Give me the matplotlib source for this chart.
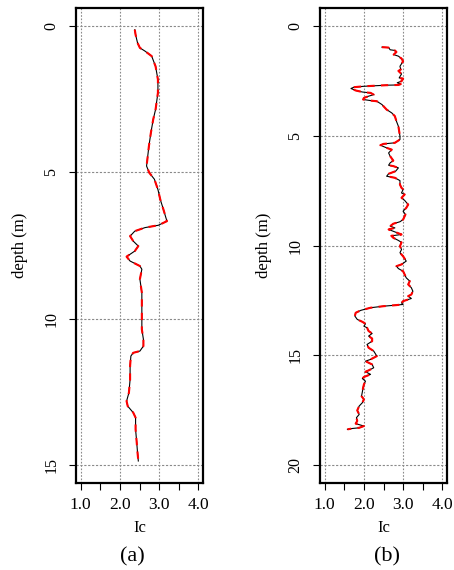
import numpy as np
import matplotlib.pyplot as plt

plt.rcParams['font.family'] = ['Liberation Serif', 'DejaVu Serif']

# panel (a): smooth Ic profile
depth_a = [0.14, 0.31, 0.59, 0.76, 0.87, 1.04, 1.39, 1.84, 2.29, 2.86, 3.2, 3.66, 4.11,
           4.57, 4.79, 5.02, 5.24, 5.59, 5.93, 6.27, 6.67, 6.81, 6.89, 7.01, 7.18, 7.35,
           7.52, 7.69, 7.88, 8.03, 8.2, 8.31, 8.65, 9.11, 9.56, 10.02, 10.36, 10.70, 10.93,
           11.1, 11.16, 11.27, 11.61, 12.07, 12.52, 12.81, 12.98, 13.2, 13.37, 13.77,
           14.23, 14.57, 14.85]
ic_a = [2.38, 2.40, 2.45, 2.51, 2.64, 2.81, 2.91, 2.97, 2.97, 2.91, 2.85, 2.79, 2.74,
        2.70, 2.68, 2.75, 2.88, 2.97, 3.03, 3.11, 3.20, 2.98, 2.64, 2.38, 2.26, 2.34,
        2.47, 2.38, 2.17, 2.26, 2.51, 2.56, 2.51, 2.56, 2.56, 2.56, 2.56, 2.60, 2.60,
        2.51, 2.34, 2.28, 2.26, 2.26, 2.23, 2.17, 2.20, 2.34, 2.40, 2.40,
        2.43, 2.45, 2.47]

# panel (b): jagged Ic profile
depth_b = [0.98, 1.00, 1.10, 1.13, 1.2, 1.32, 1.39, 1.5, 1.62, 1.85, 2.0, 2.06, 2.2, 2.38,
           2.41, 2.53, 2.6, 2.66, 2.70, 2.71, 2.74, 2.76, 2.8, 2.86, 2.95, 3.02, 3.06, 3.14,
           3.21, 3.29, 3.36, 3.41, 3.44, 3.59, 3.82, 3.97, 4.12, 4.35, 4.58, 4.80, 5.03,
           5.18, 5.33, 5.38, 5.44, 5.56, 5.64, 5.79, 5.94, 6.14, 6.24, 6.35, 6.39, 6.47,
           6.62, 6.74, 6.85, 6.92, 7.05, 7.23, 7.38, 7.45, 7.61, 7.68, 7.83, 7.95, 8.14,
           8.29, 8.44, 8.59, 8.82, 8.92, 9.01, 9.12, 9.2, 9.27, 9.38, 9.5, 9.56, 9.65,
           9.77, 9.86, 10.03, 10.18, 10.33, 10.49, 10.71, 10.86, 10.94, 11.05, 11.17,
           11.32, 11.47, 11.62, 11.77, 11.92, 12.08, 12.23, 12.30, 12.41, 12.53, 12.61,
           12.68, 12.71, 12.76, 12.83, 12.95, 13.06, 13.21, 13.36, 13.47, 13.56, 13.67,
           13.74, 13.89, 14.0, 14.12, 14.23, 14.35, 14.5, 14.65, 14.8, 15.03, 15.18,
           15.26, 15.41, 15.56, 15.68, 15.74, 15.86, 15.98, 16.05, 16.17, 16.32, 16.47,
           16.65, 16.85, 17.0, 17.15, 17.3, 17.5, 17.68, 17.83, 17.98, 18.1, 18.17,
           18.21, 18.29, 18.32, 18.36]
ic_b = [2.46, 2.63, 2.67, 2.79, 2.83, 2.76, 2.88, 2.96, 3.0, 2.92, 2.94, 2.88, 2.96, 2.90,
        3.0, 2.96, 2.85, 2.94, 2.88, 2.58, 2.25, 2.0, 1.75, 1.67, 1.79, 1.96, 2.17, 2.25,
        2.12, 2.0, 1.98, 2.17, 2.33, 2.46, 2.58, 2.71, 2.79, 2.83, 2.88, 2.90, 2.92,
        2.92, 2.79, 2.5, 2.42, 2.58, 2.71, 2.63, 2.67, 2.75, 2.67, 2.63, 2.75, 2.88,
        2.81, 2.63, 2.58, 2.79, 2.92, 2.92, 2.96, 3.0, 2.96, 3.04, 2.96, 3.04, 3.13,
        3.08, 3.0, 3.06, 3.0, 2.92, 2.75, 2.67, 2.79, 2.63, 2.79, 2.96, 2.70, 2.75,
        2.88, 2.96, 2.92, 2.96, 2.92, 3.0, 3.08, 2.96, 2.83, 2.88, 3.0,
        3.04, 3.08, 3.17, 3.13, 3.21, 3.25, 3.21, 3.13, 3.21, 3.0, 2.96,
        3.0, 2.83, 2.5, 2.17, 1.92, 1.79, 1.77, 1.83, 1.96, 2.04, 2.0,
        2.08, 2.12, 2.21, 2.12, 2.21, 2.21, 2.08, 2.12, 2.25, 2.33, 2.17,
        2.04, 2.21, 2.25, 2.12, 2.04, 2.17, 2.0, 1.96, 2.04, 2.0, 1.98,
        1.96, 1.94, 2.0, 1.96, 1.88, 1.83, 1.88, 1.81, 1.83, 1.79, 1.92,
        2.0, 1.88, 1.71, 1.58]

xticks = [1.0, 2.0, 3.0, 4.0]
xminor = [1.5, 2.5, 3.5]
yticks_a = [0, 5, 10, 15]
yticks_b = [0, 5, 10, 15, 20]

fig = plt.figure(figsize=(4.54, 5.70), dpi=100)
W, H = 454, 570

def panel(left_px, depth, ic, yticks):
    ax = fig.add_axes([left_px / W, (H - 483) / H, 127 / W, 475 / H])
    ax.plot(ic, depth, color='black', lw=0.8, zorder=3)
    ax.plot(ic, depth, color='red', lw=1.5, dashes=(3.5, 3), zorder=4)
    ymax = yticks[-1]
    pad = ymax * 0.04
    ax.set_ylim(ymax + pad, -pad)
    ax.set_xlim(0.88, 4.12)
    ax.set_xticks(xticks)
    ax.set_xticklabels(['%.1f' % v for v in xticks])
    ax.set_xticks(xminor, minor=True)
    ax.set_yticks(yticks)
    ax.set_yticklabels([str(v) for v in yticks], rotation=90, va='center')
    ax.tick_params(axis='both', which='both', direction='out', length=5, width=0.8)
    ax.tick_params(axis='x', pad=5, labelsize=12.5)
    ax.tick_params(axis='y', pad=7, labelsize=11.5)
    for v in xticks:
        ax.axvline(v, color='#8a8a8a', lw=0.8, dashes=(1.5, 1.5), zorder=1)
    for v in yticks:
        ax.axhline(v, color='#8a8a8a', lw=0.8, dashes=(2, 1.5), zorder=1)
    for s in ax.spines.values():
        s.set_linewidth(1.6)
    ax.set_xlabel('Ic', fontsize=12)
    ax.xaxis.set_label_coords(0.5, -(528 - 483) / 475)
    ax.xaxis.label.set_va('center')
    ax.set_ylabel('depth (m)', fontsize=12)
    ax.yaxis.set_label_coords((20 - 76) / 127, 0.5)
    ax.yaxis.label.set_va('center')
    return ax

panel(76, depth_a, ic_a, yticks_a)
panel(320, depth_b, ic_b, yticks_b)

fig.text(132 / W, 1 - 557 / H, '(a)', fontsize=16, ha='center', va='center')
fig.text(387 / W, 1 - 557 / H, '(b)', fontsize=16, ha='center', va='center')

fig.savefig('out.png', dpi=100)
